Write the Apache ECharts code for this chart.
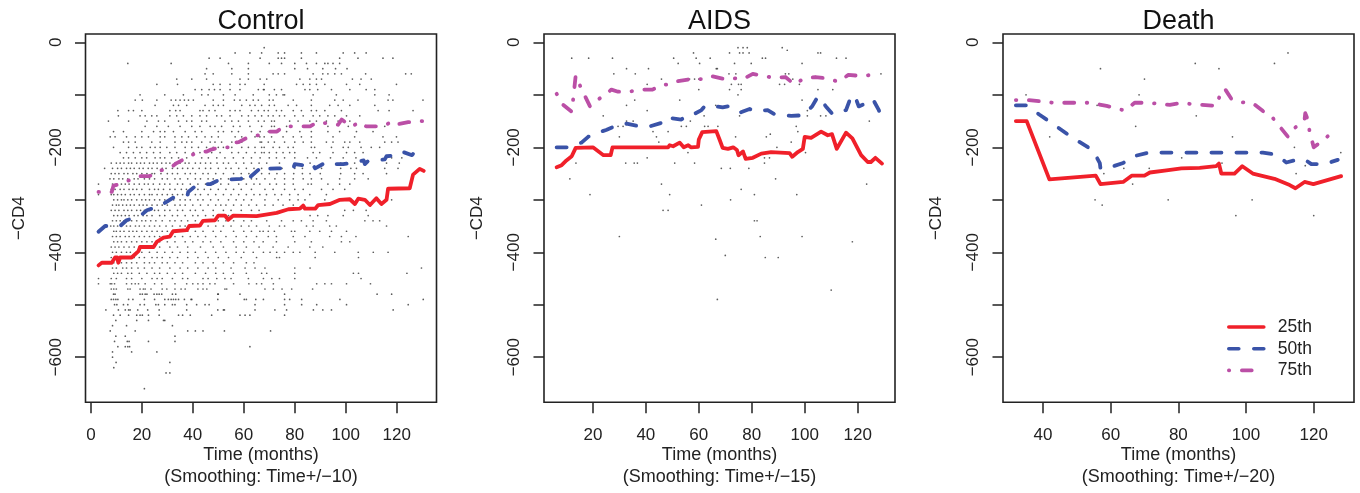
<!DOCTYPE html>
<html><head><meta charset="utf-8">
<script src="https://cdn.jsdelivr.net/npm/echarts@6/dist/echarts.min.js"></script>
<style>html,body{margin:0;padding:0;background:#fff}#c{width:1360px;height:493px}</style>
</head><body><div id="c"></div>
<script>
const panelTitles = ['Control','AIDS','Death'];
const smoothingNotes = ['(Smoothing: Time+/\u221210)','(Smoothing: Time+/\u221215)','(Smoothing: Time+/\u221220)'];
const seriesNames = ['25th','50th','75th'];
const yTicks = [0,-100,-200,-300,-400,-500,-600];
const yLabels = [0,-200,-400,-600];
const xTicksControl = [0,20,40,60,80,100,120];
const xTicksAids = [20,40,60,80,100,120];
const xTicksDeath = [40,60,80,100,120];

const control25 = [[3,-425],[4.3,-420],[8.2,-420],[9.5,-410],[10.3,-410],[10.8,-420],[11.5,-410],[16,-410],[18.7,-398],[19.3,-390],[24.6,-390],[25.9,-380],[28.5,-372],[31,-370],[32.3,-360],[37.6,-358],[38.6,-350],[42.8,-349],[44,-340],[48.7,-339],[50,-330],[52.6,-330],[53.9,-338],[55.9,-330],[65,-331],[72.9,-325],[77.5,-318],[82,-317],[83.3,-311],[84,-317],[88,-317],[89.2,-310],[93.8,-308],[97.7,-300],[101.6,-299],[103.6,-308],[104.9,-298],[107.5,-300],[109.5,-310],[112,-297],[114,-308],[116,-300],[116.6,-279],[125.1,-278],[126.4,-252],[129,-241],[130.6,-245]];
const control50 = [[3,-361],[5.6,-350],[11.5,-350],[14,-339],[19.3,-331],[22,-320],[27,-312],[30,-303],[34,-291],[38,-290],[38.2,-285],[42,-270],[47,-270],[50.7,-261],[55,-261],[59,-260],[60.5,-251],[61.7,-260],[65.7,-243],[67.7,-250],[69.6,-241],[73,-240],[79.4,-240],[80,-232],[85,-235],[86.6,-230],[88,-240],[92.5,-228],[95,-232],[99,-232],[102,-230],[107,-225],[107.5,-232],[108.8,-226],[112,-225],[115.3,-223],[116,-217],[120,-215],[122,-208],[126,-215],[128.4,-200]];
const control75 = [[3,-285],[8.2,-285],[8.9,-273],[11.5,-270],[15.4,-262],[19.3,-255],[23,-255],[26.5,-245],[31,-240],[33.7,-230],[37.6,-220],[41.5,-210],[45.5,-208],[46.8,-205],[50.7,-200],[54,-200],[54.2,-192],[58,-190],[62,-180],[65.7,-177],[69.6,-170],[73,-170],[75.5,-160],[80.7,-160],[86,-160],[89,-152],[93.8,-155],[97,-157],[98.4,-147],[102,-160],[106,-152],[108,-160],[110,-160],[114,-160],[118,-152],[119,-157],[124.5,-152],[130.4,-150]];

const aids25 = [[6.3,-238],[8.2,-234],[10,-225],[12,-217],[13.5,-201],[20,-200],[24,-215],[26.7,-215],[27.4,-200],[48.4,-200],[49,-196],[50.3,-198],[52.8,-191],[54.3,-200],[56,-196],[57,-200],[59.7,-199],[60,-185],[61.3,-171],[66.6,-169],[67.9,-186],[69,-201],[71,-203],[73,-200],[74.4,-205],[75,-215],[76.7,-208],[77.7,-222],[80.4,-220],[83.6,-212],[87.3,-209],[94.3,-211],[95.3,-218],[97.4,-209],[99.3,-203],[100,-180],[102.4,-182],[106.2,-170],[108.7,-177],[110.3,-175],[112.1,-203],[115.6,-172],[118,-183],[121.3,-215],[123.8,-228],[125,-228],[126.7,-220],[129.2,-231]];
const aids50 = [[6.3,-200],[10.3,-200],[15.7,-191],[18.2,-180],[21.4,-173],[25,-167],[29.2,-158],[32.7,-155],[37.7,-160],[41.5,-160],[46.8,-152],[48.4,-152],[49,-144],[53.4,-147],[55.3,-140],[57,-140],[61,-129],[62.2,-122],[64,-120],[69,-124],[71,-122],[72.3,-127],[75.4,-134],[79.2,-127],[81,-131],[86,-129],[88.6,-137],[94.9,-140],[99.3,-139],[102.8,-122],[105,-103],[108,-122],[110.6,-137],[115.6,-129],[117,-110],[118.8,-100],[120.4,-122],[123.2,-116],[125.7,-108],[128,-129],[129.2,-149]];
const aids75 = [[6.3,-98],[8.8,-119],[12,-132],[12.6,-106],[13.5,-63],[15.7,-89],[18.9,-122],[20.8,-113],[24.5,-100],[27,-90],[29.5,-94],[33.7,-94],[37.7,-90],[42.5,-90],[46,-81],[49,-80],[50.9,-75],[56.8,-70],[61.6,-70],[64.7,-64],[69.8,-70],[72.3,-68],[76.7,-70],[80.4,-60],[84.8,-64],[88.6,-68],[92.7,-66],[96.1,-80],[99.3,-70],[104,-66],[108.7,-69],[112.7,-75],[116.5,-62],[121.3,-64],[125.4,-62],[128.8,-62]];

const death25 = [[32,-150],[35.2,-150],[41.9,-261],[55.6,-254],[57,-270],[63.7,-266],[66.2,-254],[70,-254],[71.6,-248],[76.5,-244],[80.9,-240],[86.3,-239],[91.2,-236],[92,-231],[92.7,-250],[96.6,-250],[98.9,-236],[102,-250],[108.4,-260],[112.9,-272],[114.6,-278],[117.3,-266],[119.9,-270],[128.1,-255]];
const death50 = [[32,-120],[35.2,-120],[39,-138],[42,-151],[47.9,-178],[54.8,-206],[56.8,-230],[57,-240],[58.8,-240],[63.7,-230],[66.2,-218],[70.6,-211],[73,-210],[105,-210],[108.9,-214],[111.9,-229],[114.8,-224],[117.3,-223],[119.3,-232],[123.2,-232],[127.1,-224]];
const death75 = [[32,-110],[35.7,-110],[43,-115],[53.9,-115],[58.8,-121],[64.2,-130],[67.1,-115],[70.6,-115],[77.5,-119],[81,-115],[84.3,-118],[91.2,-121],[92.4,-99],[93.7,-88],[95.7,-108],[98.6,-114],[102,-116],[105,-131],[107.9,-144],[110.4,-164],[112.4,-180],[114.6,-162],[117.3,-147],[117.5,-135],[118.3,-148],[118.8,-171],[120,-200],[122.2,-189],[124.9,-175]];

const controlDotRows = [
[-10,[68]],
[-20,[56.6,62.4,67,73.5,76,82.6,88.5,99,103.5,108]],
[-30,[46.4,50.7,66.4,73.5,74.8,76,82.6,97.6,104.8,114.6,118.5]],
[-40,[14.5,31.5,54,61.8,70,74.8,80,84.6,88.5,91.8,93,95,97.6]],
[-50,[45.4,55.3,61.8,80,85,91,96,100.5]],
[-60,[44.8,48,55.3,61.8,71.5,73.5,76,87.2,91,93,95.7,98.3,107.8,123.5,125.7]],
[-70,[33.7,39.6,45.4,58.5,61.8,66.4,69,82,85.9,88.5,90.5,102.6,106,110]],
[-80,[25.9,34,48,50.7,54.6,58.5,60.5,68,80.7,83.3,85.9,88.5,91.8,100.3,105.5,119.9]],
[-90,[40.9,43.5,46.4,48.5,50.7,54.6,58.5,65.7,67.7,68,72,74.8,84,85.9,89,94.4,101.6,108,111.4]],
[-100,[19.3,29,36.3,43.5,46,52,56.6,63.7,70,72.8,75.4,76,87.2,96.3,111.4,117]],
[-110,[17.4,20.2,25.9,31.5,33.3,35,36.7,38.3,40.2,48,52,56.3,58.5,61,63.7,65.7,70,71.5,79.4,86.5,95.7,99,104.8,116.6,118.5,130.3]],
[-120,[25.2,32.4,34.4,37.6,44.8,48,50,52,59.2,62.4,64.4,67,70,72,77.4,80.7,86.5,93.7,97,101.6,111.4]],
[-130,[10.6,14.8,16.7,20,31,33.3,35,42.8,44,46.4,48.7,54.6,56.6,58.5,63,65.7,68,69.6,72.8,74.8,79.4,82.6,86.5,88.5,91.8,98.3,112.7,117,126.4]],
[-140,[10.8,19.3,21.3,23.9,25.9,31,33.7,36.3,39.6,42.8,45.4,49.4,51.3,54.6,59.2,61.8,64.4,67,69.6,71.5,74,76,80,83.3,87.2,89.8,93,95.7,100.3,105.5]],
[-150,[6.9,14.8,22,26.5,29,34.4,37.6,39.6,43.5,45.4,52.6,55.3,57.9,61.8,65.7,68,70.9,72,78,81.3,85.9,88.5,92.4,97,101.6]],
[-160,[21.3,25.9,30.4,35,39.6,42.8,46.8,48.7,51.3,55.9,58.5,62.4,67,70.9,72,76.8,83.3,86.5,93,101,108,115.3]],
[-170,[8.9,12.8,20,24.6,27.2,29,32.4,37,40.9,43.5,50,52,55.3,57.9,63,66.4,69.6,72.8,76.8,82,86.5,93,97.6,104.2,110.7]],
[-180,[7.6,9.5,14,17.4,20,22.6,27.2,29,33,35.7,38.3,41.5,44.8,47.4,50,56.6,59.2,64.4,66.3,68,70.9,75.4,79.4,82.6,86.5,95,103.5,114.6,119.9]],
[-190,[12.8,14.8,17.4,23.9,27.2,33,35.7,37.6,39.6,43.5,46.8,48.7,51.3,55.3,59.2,66.4,67,69.6,72,76,80,83.3,86.5,92.4,95,99.6,101.6,105.5,115.3,118,120.5]],
[-200,[8.9,14.8,18,20,23.3,25.2,27.2,29.8,33,37,39.6,42.2,45.4,48,50,52,55.3,59.2,61.8,64.4,67,68,71.5,74,77.4,79.4,86.5,87.8,94.4,99,101,106,110,113.3]],
[-210,[11.5,14,16.7,19.3,21.9,24.6,27.2,31,33.7,37,40.2,42.8,47.4,50.7,55.3,57.9,61,64.4,67,68,70,72.8,75.4,78,80,87.2,89.8,95,100.3,103.5,106.8]],
[-220,[12.8,14.8,17.4,20,21.9,25.2,27.2,29,31.7,34.4,37.6,43.5,46.1,49.4,52.6,55.9,59.8,63,66.4,70,72.8,76,80,85,88.5,94,99,104,118,122]],
[-230,[8,10,11.5,13,14.8,16,18,19.5,21,23,24.5,26,27.8,29.5,31,33,35,37,38.5,41,43,45,47,49.5,52,54,57,60,63,66,69,74,86,98,103.5,116,121]],
[-240,[5.4,8.5,10.5,12,14,15.5,17,19,20.5,22.5,24,26,28,29.5,32,34,36,38,40,42.5,45,47,50,53,55,58,61,64,67,71,75,80,83,90.5,98,102,104.2,115.3,120.5]],
[-250,[8,9.5,11,13,14.5,16.5,18,20,22,24,25,27.5,30,32,34,37,39,41,44,46,49,52,56,59,62,64.5,67,70,73,76,79.6,83,86,90,98,103.5,106.8,116]],
[-260,[7.5,9,11,12.5,14.5,17,18.5,21,23,25,28,30,33,35,38,41,43,46,48,51,54,57,60,63,65,68.3,72.2,76,79.4,83.3,86.5,90.5,97.6,103.5,108.8]],
[-270,[3,8.5,10,12,13.5,15,17,19,21,22.5,24.5,27,29,31,34,36,39,42,45,48,51,54,58,61,64,66.3,70.2,72.8,76,79.4,85.2,86.5,93,97.6,101.6]],
[-280,[8,9.5,11.5,13,15,16.5,18,20,23,25,26.5,28.5,31,33,35.5,37.5,40,42,44.5,47,50,53,56,59,63,68.3,71.5,76,80,83.3,90.5,95,99.6]],
[-290,[3,8,9,10.5,12,13.5,15.5,17,19,21,23,24,26,28,30,32,34,36,38,41,43,46,49,52,55,58,61,64,66.3,68.9,72.2,74.8,78,81.3,85.9,92.4]],
[-300,[9,10.5,12,13,14.5,16,18,20,21.5,23,25,27,29,31,32.5,35,37,39,42,44,47,50,54,57,60,63,68.3,73.5,78,81.3,84,91.8,118]],
[-310,[8.5,10,11,12.5,14,15.5,17,19,20.5,22,24,26,28,30,33,35,37,40,43,46,49,51,53,56,59,62,65,68.3,71.5,75.4,79.4]],
[-320,[8,9.5,11,13,14.5,16,18,19.5,21,23,25,26.5,29,31,34,36,39,41,44,48,52,55,59,63,66,99.6,103,108]],
[-330,[9,10.5,12,13.5,15,17,18.5,20.5,22,24,27,29,32,34,37,40,42,45,48,51,54,58,61,64,86,89,93,99,108.8]],
[-340,[8.5,10,11.5,13,14.5,16,18,20,21.5,23.5,25.5,28,31,33,35.5,38,41,44,47,50,53,56,60,63,69,74.8,79.4,82.6,87.2,92.4,107.5,110.7,113.3]],
[-350,[7.8,9,10.5,12,14,15.5,17.5,19,21,23,25,27,29.5,32,35,37,40,43,46,49,52,55,59,62,65,70,74,76,84.6,87.2,93.7,96.3,116]],
[-360,[9,10,11.5,13,15,16.5,18,20,22,24,26,28,30,33,36,38,41,44,48,51,56,60,63,66.3,67.6,69.6,72,78.7,80,85.9,89.8,94.4,100.3]],
[-370,[8.5,10,11.5,13.5,15,17,19,21,23,25,27,30,33,36,39,42,45,49,53,57,61,65,69.6,72.8,79.4,84,93.7,98.3,104,124.5]],
[-380,[9,10.5,12,14,16,18,20,22,24,27,30,33,37,40,44,47,51,56,60,64,67.6,72.8,80,86.5,98.3,101.6]],
[-390,[8,9.5,11,13,15,17,19,22,24,27,31,34,38,43,48,52,57,61,66,71.5,77.4,85.9,91]],
[-400,[8.5,10,12,14,15.5,18,20,23,26,29,32,35,38,41,45,49,53,57,60,63.7,67.7,70.3,72.9,76,79.4,82,88,95.7,104.9,110.8,116.6]],
[-410,[8,9.5,11,13,15,17,19,21,24,26,28,31,34,38,42,46,50,54,59,65,72.9,74,88,105]],
[-420,[7.8,9,10.5,12,14,16,18,21,23,25,28,30,33,36,41,44,48,52,56,61,64]],
[-430,[8.5,10,12.5,14,16,18.5,21,24,27,31,35,38,42,46,49,55,60.5,64.4,68.3,80,86,129.7]],
[-440,[9,10.5,12,14.5,16,19,22,25,27,30,33,36,41,45,49,52,55.9,61,67,69,80,103,105,124]],
[-450,[3,8,10,14,16,20,24,26,28,32,36,38,44,46,49.4,52.6,55,61.8,67.7,71,74,80,106]],
[-460,[3,7.6,8.2,9.3,14,16,17.4,18.7,21.3,25,27.8,33,37.6,40,42,44,46.7,48.7,56,62,65,67,71.6,88.6,91.8,94.4,100.3,109.7]],
[-470,[8,9,10,14.5,15.4,19.3,20.6,21.3,23.6,28,29.8,33,35.4,37,42,44,45.5,52.6,53.3,68.3,71.6,75,78.8,87]],
[-480,[8.9,9.5,19.3,20.2,21.3,22,24.8,25.9,26.8,27.8,32,33.3,49.8,50,58.5,76,112.3,118]],
[-490,[8,8.9,9.8,10.6,14.8,16.5,21,25,29,30.4,31.5,32.4,33.3,34.4,36.7,39.3,39.6,49.8,60.2,61,64.7,67.7,76,78,82.7,97.7,130.4]],
[-500,[9.3,10.2,12.8,14.5,19.3,21,25.5,26.5,29,32,33,37.6,41.5,44.8,46.4,64.4,76,82.7,88.6,100.3,124.5]],
[-510,[5.9,10.8,13.5,14.8,15.4,18.4,22.3,26.8,37.6,49.8,52,52.4,64.4,72.2,76.8,87.3,91,94.4,118.6]],
[-520,[8.9,11.5,14.8,18,19.3,20.2,22.6,26.8,34.4,36,39,47.4,58.5,60.5,62.4,76]],
[-530,[9.8,18,22.6,28.5,29]],
[-540,[8.5,14,32]],
[-550,[7.6,17.4,38,41,44,52.4,70.5]],
[-560,[9.8,13.5,33]],
[-570,[9.3,14.3,15,22.6,33]],
[-580,[10.6,13.5,14.5,15.2,62.4]],
[-590,[8.5,16,25.9]],
[-600,[8.5]],
[-610,[9.9,31]],
[-620,[9]],
[-630,[29.5,31]],
[-660,[21]]
];

const aidsDots = [[12,-30],[18.4,-30],[27.4,-30],[50.5,-30],[52.2,-40],[58,-20],[59,-30],[60.3,-40],[64.3,-30],[66.6,-50],[67,-50],[71.6,-20],[73.5,-40],[74.8,-10],[76.7,-10],[78.3,-10],[75.4,-20],[76.7,-20],[79,-20],[79.8,-40],[84,-30],[85.2,-30],[91.5,-10],[93.4,-15],[99,-40],[105,-20],[106,-20],[112,-30],[115.6,-30],[32.7,-50],[36,-60],[41,-50],[27.9,-60],[45.9,-70],[40.5,-80],[56.5,-70],[58.4,-70],[60,-70],[60,-90],[71.4,-60],[74,-60],[92.7,-60],[94,-60],[95.5,-70],[90.5,-80],[92.4,-80],[98,-80],[128.8,-60],[71.6,-90],[76,-90],[72.3,-80],[75,-80],[76,-80],[74.8,-100],[32.7,-120],[35.8,-110],[52.8,-110],[40.5,-130],[23.9,-140],[99,-110],[105,-90],[110.6,-90],[66.4,-120],[62,-140],[75.4,-140],[76.7,-130],[101,-130],[101,-140],[106,-140],[108,-140],[124.4,-150],[35.2,-150],[32.7,-150],[31.4,-160],[29.5,-160],[42.7,-170],[44,-180],[44.9,-190],[48.4,-170],[53.4,-160],[55.3,-160],[56.8,-150],[62.2,-160],[63.5,-160],[67.2,-160],[96.8,-160],[97.4,-170],[30,-180],[73.9,-180],[85.5,-180],[87,-175],[94.9,-190],[89.5,-200],[55.9,-210],[100.3,-210],[84.8,-220],[86.7,-220],[40.5,-220],[13.6,-230],[32.4,-230],[35.6,-230],[36.8,-230],[50.9,-230],[58.4,-230],[84.8,-230],[68.5,-240],[71.9,-240],[78.9,-240],[11.3,-260],[89,-260],[45.9,-270],[123.4,-270],[76,-280],[18.9,-290],[49,-290],[81,-290],[97,-290],[72,-300],[61,-310],[46.5,-320],[48.4,-320],[81,-340],[82,-340],[30,-370],[83.2,-370],[99,-370],[66.4,-375],[118,-380],[70,-406],[85.1,-410],[90,-410],[67,-490],[110,-472]];

const deathDots = [[57,-50],[35,-100],[85,-40],[92,-50],[108.4,-40],[112.4,-20],[70,-70],[68.4,-100],[56,-120],[85.3,-140],[67.4,-160],[42,-180],[96,-180],[114.3,-200],[128,-210],[81,-220],[84,-210],[91,-210],[92.9,-230],[63.9,-240],[71.4,-240],[117.5,-235],[58,-250],[114.8,-250],[66.5,-270],[55.4,-300],[77,-300],[101.8,-300],[57.5,-310],[97,-330],[120,-330]];

const controlDots = [];
controlDotRows.forEach(r => r[1].forEach(t => controlDots.push([t, r[0]])));

const FONT = '"Liberation Sans", Arial, sans-serif';
const INK = '#222';
const LINE_STYLES = [
  {color:'#f0202a', type:'solid', width:3.8, cap:'round', join:'round'},
  {color:'#3a53a8', type:[10,15], width:3.8, cap:'round', join:'round'},
  {color:'#bb4fa6', type:[0.5,12.5,10,12.5], width:3.8, cap:'round', join:'round'}
];
const panels = [
  {left:85.5, xMin:-2.1, xMax:135.6, xTicks:xTicksControl, dots:controlDots, lines:[control25,control50,control75]},
  {left:544,  xMin:1.53, xMax:134.1, xTicks:xTicksAids,    dots:aidsDots,    lines:[aids25,aids50,aids75]},
  {left:1003, xMin:28.2, xMax:131.9, xTicks:xTicksDeath,   dots:deathDots,   lines:[death25,death50,death75]}
];
const W = 351, H = 368.3, TOP = 34;

const option = {
  animation:false,
  backgroundColor:'#fff',
  textStyle:{fontFamily:FONT},
  title: panels.map((p,i)=>({
    text:panelTitles[i], left:p.left+W/2, top:8, padding:0, textAlign:'center',
    textStyle:{fontFamily:FONT,fontWeight:'normal',fontSize:27,color:'#111'}
  })),
  legend:{
    data:seriesNames, orient:'vertical', left:1227, top:318, padding:0,
    itemWidth:35, itemHeight:14, itemGap:3.7, selectedMode:false,
    itemStyle:{opacity:0}, lineStyle:{width:3.6},
    textStyle:{fontFamily:FONT,fontSize:17.5,color:INK,padding:[0,0,0,9]}
  },
  grid: panels.map(p=>({left:p.left,top:TOP,width:W,height:H,outerBoundsMode:'none',containLabel:false,show:true,borderColor:INK,borderWidth:1.6,backgroundColor:'transparent'})),
  xAxis: panels.map((p,i)=>({
    gridIndex:i, type:'value', min:p.xMin, max:p.xMax, splitLine:{show:false},
    axisLine:{show:false,onZero:false},
    axisTick:{show:true,length:11,lineStyle:{color:INK,width:1.5},customValues:p.xTicks},
    axisLabel:{fontFamily:FONT,fontSize:17,color:INK,margin:25,customValues:p.xTicks,showMinLabel:true,showMaxLabel:true},
    name:'Time (months)\n'+smoothingNotes[i], nameLocation:'middle', nameGap:42, nameMoveOverlap:false,
    nameTextStyle:{fontFamily:FONT,fontSize:18,color:INK,lineHeight:22,verticalAlign:'top'}
  })),
  yAxis: panels.map((p,i)=>({
    gridIndex:i, type:'value', min:-686, max:16, splitLine:{show:false},
    axisLine:{show:false,onZero:false},
    axisTick:{show:true,length:10.5,lineStyle:{color:INK,width:1.5},customValues:yTicks},
    axisLabel:{fontFamily:FONT,fontSize:17,color:INK,rotate:90,margin:21,customValues:yLabels,
      formatter:v=>String(v).replace('-','\u2212')},
    name:'\u2212CD4', nameLocation:'middle', nameRotate:90, nameGap:58, nameMoveOverlap:false,
    nameTextStyle:{fontFamily:FONT,fontSize:17,color:INK}
  })),
  series: panels.flatMap((p,i)=>[
    {type:'scatter',xAxisIndex:i,yAxisIndex:i,data:p.dots,symbolSize:1.7,silent:true,z:1,
      itemStyle:{color:'#333'}},
    ...p.lines.map((d,k)=>({
      type:'line',name:seriesNames[k],xAxisIndex:i,yAxisIndex:i,data:d,symbol:'none',z:3,silent:true,
      lineStyle:LINE_STYLES[k],itemStyle:{color:LINE_STYLES[k].color}
    }))
  ])
};
echarts.init(document.getElementById('c'),null,{renderer:'canvas'}).setOption(option);
</script></body></html>
